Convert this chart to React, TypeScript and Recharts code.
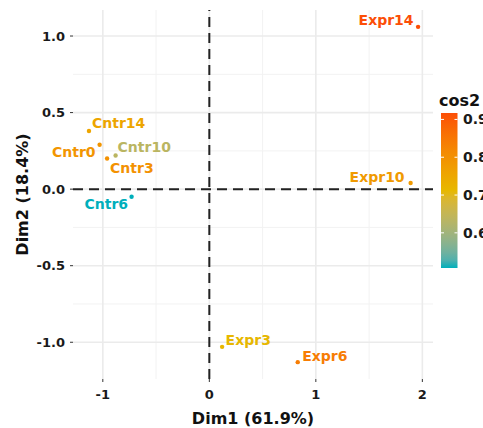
import React from 'react';
import { ScatterChart, Scatter, XAxis, YAxis, ReferenceLine } from 'recharts';

const names = ['Cntr0', 'Cntr3', 'Cntr6', 'Cntr10', 'Cntr14', 'Expr3', 'Expr6', 'Expr10', 'Expr14'];
const dim1 = [-1.03, -0.96, -0.73, -0.88, -1.13, 0.12, 0.83, 1.89, 1.96];
const dim2 = [0.29, 0.2, -0.05, 0.22, 0.38, -1.03, -1.13, 0.04, 1.06];
const cos2 = [0.79, 0.8, 0.507, 0.635, 0.755, 0.715, 0.84, 0.78, 0.917];

const xTicks = [-1, 0, 1, 2];
const yTicks = [-1, -0.5, 0, 0.5, 1];
const xMinor = [-0.5, 0.5, 1.5];
const yMinor = [-0.75, -0.25, 0.25, 0.75];
const legendTicks = [0.6, 0.7, 0.8, 0.9];
const gradientCols = ['#00AFBB', '#E7B800', '#FC4E07'];

// label nudges (px) relative to the dot, like ggrepel output
const labelPos: Record<string, { dx: number; dy: number; anchor: 'start' | 'end' }> = {
  Cntr0: { dx: -4, dy: 7, anchor: 'end' },
  Cntr3: { dx: 3, dy: 9.5, anchor: 'start' },
  Cntr6: { dx: -3.5, dy: 7, anchor: 'end' },
  Cntr10: { dx: 2, dy: -8.5, anchor: 'start' },
  Cntr14: { dx: 3, dy: -8, anchor: 'start' },
  Expr3: { dx: 3.5, dy: -6.5, anchor: 'start' },
  Expr6: { dx: 4.5, dy: -6.5, anchor: 'start' },
  Expr10: { dx: -6, dy: -6.5, anchor: 'end' },
  Expr14: { dx: -4.5, dy: -7, anchor: 'end' },
};

const cMin = Math.min(...cos2);
const cMax = Math.max(...cos2);

// colour ramp interpolated in Lab, the way ggplot's gradientn does it
const toLin = (c: number) => {
  c /= 255;
  return c <= 0.04045 ? c / 12.92 : Math.pow((c + 0.055) / 1.055, 2.4);
};
const fromLin = (c: number) => {
  const v = c <= 0.0031308 ? 12.92 * c : 1.055 * Math.pow(c, 1 / 2.4) - 0.055;
  return Math.round(Math.max(0, Math.min(1, v)) * 255);
};
const fLab = (t: number) => (t > 0.008856 ? Math.cbrt(t) : 7.787 * t + 16 / 116);
const fInv = (t: number) => (t > 0.206893 ? t * t * t : (t - 16 / 116) / 7.787);
const hexToLab = (h: string) => {
  const [r, g, b] = [1, 3, 5].map(i => toLin(parseInt(h.slice(i, i + 2), 16)));
  const X = (0.4124 * r + 0.3576 * g + 0.1805 * b) / 0.95047;
  const Y = 0.2126 * r + 0.7152 * g + 0.0722 * b;
  const Z = (0.0193 * r + 0.1192 * g + 0.9505 * b) / 1.08883;
  return [116 * fLab(Y) - 16, 500 * (fLab(X) - fLab(Y)), 200 * (fLab(Y) - fLab(Z))];
};
const labToRgb = ([L, a, bb]: number[]) => {
  const fy = (L + 16) / 116;
  const X = fInv(fy + a / 500) * 0.95047;
  const Y = fInv(fy);
  const Z = fInv(fy - bb / 200) * 1.08883;
  const r = 3.2406 * X - 1.5372 * Y - 0.4986 * Z;
  const g = -0.9689 * X + 1.8758 * Y + 0.0415 * Z;
  const b = 0.0557 * X - 0.204 * Y + 1.057 * Z;
  return `rgb(${fromLin(r)},${fromLin(g)},${fromLin(b)})`;
};
const labCols = gradientCols.map(hexToLab);
const rampAt = (t: number) => {
  const seg = t < 0.5 ? 0 : 1;
  const f = t < 0.5 ? t / 0.5 : (t - 0.5) / 0.5;
  const a = labCols[seg];
  const b = labCols[seg + 1];
  return labToRgb(a.map((x, i) => x + (b[i] - x) * f));
};
const colorFor = (v: number) => rampAt(Math.max(0, Math.min(1, (v - cMin) / (cMax - cMin))));

const data = names.map((name, i) => ({ name, x: dim1[i], y: dim2[i], cos2: cos2[i] }));

const FONT = '"DejaVu Sans", sans-serif';

const PointLabel = (props: any) => {
  const { cx, cy, payload } = props;
  const col = colorFor(payload.cos2);
  const p = labelPos[payload.name];
  return (
    <g>
      <circle cx={cx} cy={cy} r={2.2} fill={col} />
      <text
        x={cx + p.dx}
        y={cy + p.dy + 5}
        textAnchor={p.anchor}
        fill={col}
        fontFamily={FONT}
        fontWeight="bold"
        fontSize={14}
      >
        {payload.name}
      </text>
    </g>
  );
};

const rampStops = Array.from({ length: 21 }, (_, i) => i / 20);

const ColorBar = () => {
  const top = 113;
  const h = 155;
  const yOf = (v: number) => top + ((cMax - v) / (cMax - cMin)) * h;
  return (
    <svg width={483} height={428} style={{ position: 'absolute', left: 0, top: 0, pointerEvents: 'none' }}>
      <defs>
        <linearGradient id="cosgrad" x1="0" y1="1" x2="0" y2="0">
          {rampStops.map(t => (
            <stop key={t} offset={`${t * 100}%`} stopColor={rampAt(t)} />
          ))}
        </linearGradient>
      </defs>
      <text x={439} y={106} fontFamily={FONT} fontWeight="bold" fontSize={16} fill="#111">
        cos2
      </text>
      <rect x={441} y={top} width={16.5} height={h} fill="url(#cosgrad)" />
      {legendTicks.map(v => (
        <g key={v}>
          <line x1={441} x2={444} y1={yOf(v)} y2={yOf(v)} stroke="#fff" strokeWidth={1} />
          <line x1={454.5} x2={457.5} y1={yOf(v)} y2={yOf(v)} stroke="#fff" strokeWidth={1} />
          <text x={463} y={yOf(v) + 5} fontFamily={FONT} fontWeight="bold" fontSize={14} fill="#1a1a1a">
            {v.toFixed(1)}
          </text>
        </g>
      ))}
    </svg>
  );
};

const tickStyle = { fill: '#1a1a1a', fontSize: 13, fontWeight: 'bold', fontFamily: FONT };

export default function App() {
  return (
    <div style={{ position: 'fixed', left: 0, top: 0, width: 483, height: 428, background: '#fff' }}>
      <ScatterChart width={483} height={428} margin={{ top: 10, right: 50, bottom: 0, left: 0 }}>
        <XAxis
          type="number"
          dataKey="x"
          domain={[-1.28, 2.1]}
          ticks={xTicks}
          height={49}
          axisLine={false}
          tickSize={3}
          tickMargin={8}
          tickLine={{ stroke: '#333' }}
          tick={tickStyle}
          label={{
            content: ({ viewBox }: any) => (
              <text
                x={viewBox.x + viewBox.width / 2}
                y={424}
                textAnchor="middle"
                fontFamily={FONT}
                fontWeight="bold"
                fontSize={16}
                fill="#111"
              >
                Dim1 (61.9%)
              </text>
            ),
          }}
        />
        <YAxis
          type="number"
          dataKey="y"
          domain={[-1.24, 1.17]}
          ticks={yTicks}
          width={73}
          axisLine={false}
          tickSize={3}
          tickMargin={5}
          tickLine={{ stroke: '#333' }}
          tick={tickStyle}
          tickFormatter={(v: number) => v.toFixed(1)}
          label={{
            content: ({ viewBox }: any) => {
              const cx = 28;
              const cy = viewBox.y + viewBox.height / 2;
              return (
                <text
                  x={cx}
                  y={cy}
                  transform={`rotate(-90 ${cx} ${cy})`}
                  textAnchor="middle"
                  fontFamily={FONT}
                  fontWeight="bold"
                  fontSize={16}
                  fill="#111"
                >
                  Dim2 (18.4%)
                </text>
              );
            },
          }}
        />
        {xMinor.map(v => (
          <ReferenceLine key={'xm' + v} x={v} stroke="#F2F2F2" strokeWidth={1} />
        ))}
        {yMinor.map(v => (
          <ReferenceLine key={'ym' + v} y={v} stroke="#F2F2F2" strokeWidth={1} />
        ))}
        {xTicks.map(v => (
          <ReferenceLine key={'x' + v} x={v} stroke="#EBEBEB" strokeWidth={1.6} />
        ))}
        {yTicks.map(v => (
          <ReferenceLine key={'y' + v} y={v} stroke="#EBEBEB" strokeWidth={1.6} />
        ))}
        <ReferenceLine x={0} stroke="#222" strokeWidth={2} strokeDasharray="10 6" />
        <ReferenceLine y={0} stroke="#222" strokeWidth={2} strokeDasharray="10 6" />
        <Scatter data={data} shape={PointLabel} isAnimationActive={false} />
      </ScatterChart>
      <ColorBar />
    </div>
  );
}
